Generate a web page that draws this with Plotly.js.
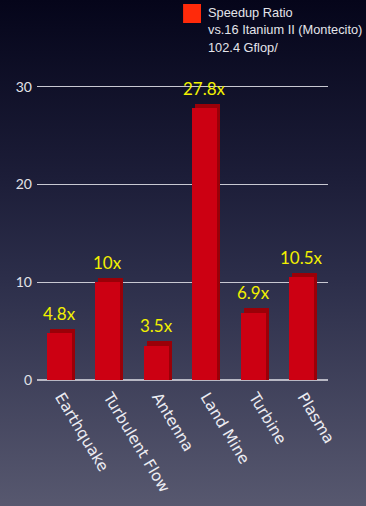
<!DOCTYPE html>
<html>
<head>
<meta charset="utf-8">
<script src="https://cdn.plot.ly/plotly-3.0.1.min.js"></script>
<style>
  html, body { margin: 0; padding: 0; width: 366px; height: 506px; overflow: hidden; }
  body { background: linear-gradient(to bottom, #05051a 0%, #1c1d38 35%, #2c2e4a 55%, #57586f 100%); }
  #chart { width: 366px; height: 506px; }
</style>
</head>
<body>
<div id="chart"></div>
<script>
// Applications and their speedup over a 16-core Itanium II (Montecito) node
const categories = ['Earthquake', 'Turbulent Flow', 'Antenna', 'Land Mine', 'Turbine', 'Plasma'];
const speedup = [4.8, 10, 3.5, 27.8, 6.9, 10.5];
const yTicks = [0, 10, 20, 30];
const legendLines = ['Speedup Ratio', 'vs.16 Itanium II (Montecito)', '102.4 Gflop/'];

const FRONT = '#cc0012';
const SIDE = '#9a0008';
const DEPTH = 0.45;   // extra height of the shaded back face, in data units

// shaded back face, shifted right and up to give the bars some depth
const back = {
  type: 'bar', x: categories, y: speedup.map(v => v + DEPTH),
  width: 0.515, offset: -0.235,
  marker: { color: SIDE, line: { width: 0 } },
  hoverinfo: 'skip', showlegend: false
};
const front = {
  type: 'bar', x: categories, y: speedup,
  width: 0.515, offset: -0.295,
  marker: { color: FRONT, line: { width: 0 } },
  showlegend: false
};

const annotations = categories.map((c, i) => ({
  x: c, y: speedup[i], xref: 'x', yref: 'y',
  text: speedup[i] + 'x', showarrow: false,
  xanchor: 'center', yanchor: 'middle', xshift: -2, yshift: 20,
  font: { family: 'Lato, sans-serif', size: 17, color: '#f2f000' }
}));

// legend block in paper coordinates (plot area height is 300px)
const py = p => (380 - p) / 300;
legendLines.forEach((t, i) => annotations.push({
  x: 0.582, y: py(12 + i * 18), xref: 'paper', yref: 'paper',
  text: t, showarrow: false, xanchor: 'left', yanchor: 'middle',
  font: { family: 'Liberation Sans, Arial, sans-serif', size: 12.8, color: '#e4e4ea' }
}));

const layout = {
  width: 366, height: 506,
  margin: { l: 37, r: 38, t: 80, b: 126 },
  paper_bgcolor: 'rgba(0,0,0,0)', plot_bgcolor: 'rgba(0,0,0,0)',
  barmode: 'overlay', bargap: 0,
  showlegend: false,
  xaxis: {
    type: 'category', range: [-0.5, 5.5],
    tickangle: 59, ticks: '', showgrid: false, zeroline: false,
    showline: false, ticklabelstandoff: 4,
    tickfont: { family: 'DejaVu Sans, sans-serif', size: 15.5, color: '#ececf2' }
  },
  yaxis: {
    range: [0, 30.7], tickvals: yTicks, ticks: '',
    showgrid: true, gridcolor: '#c8c8d2', gridwidth: 1.3,
    zeroline: true, zerolinecolor: '#b8b8c4', zerolinewidth: 2,
    showline: false, ticklabelstandoff: 4,
    tickfont: { family: 'Lato, sans-serif', size: 14, color: '#e2e2e8' }
  },
  shapes: [{
    type: 'rect', xref: 'paper', yref: 'paper',
    x0: 0.502, x1: 0.5635, y0: py(23), y1: py(4),
    fillcolor: '#ff2a0a', line: { width: 0 }
  }],
  annotations: annotations
};

Plotly.newPlot('chart', [back, front], layout, { displayModeBar: false, staticPlot: true });
</script>
</body>
</html>
